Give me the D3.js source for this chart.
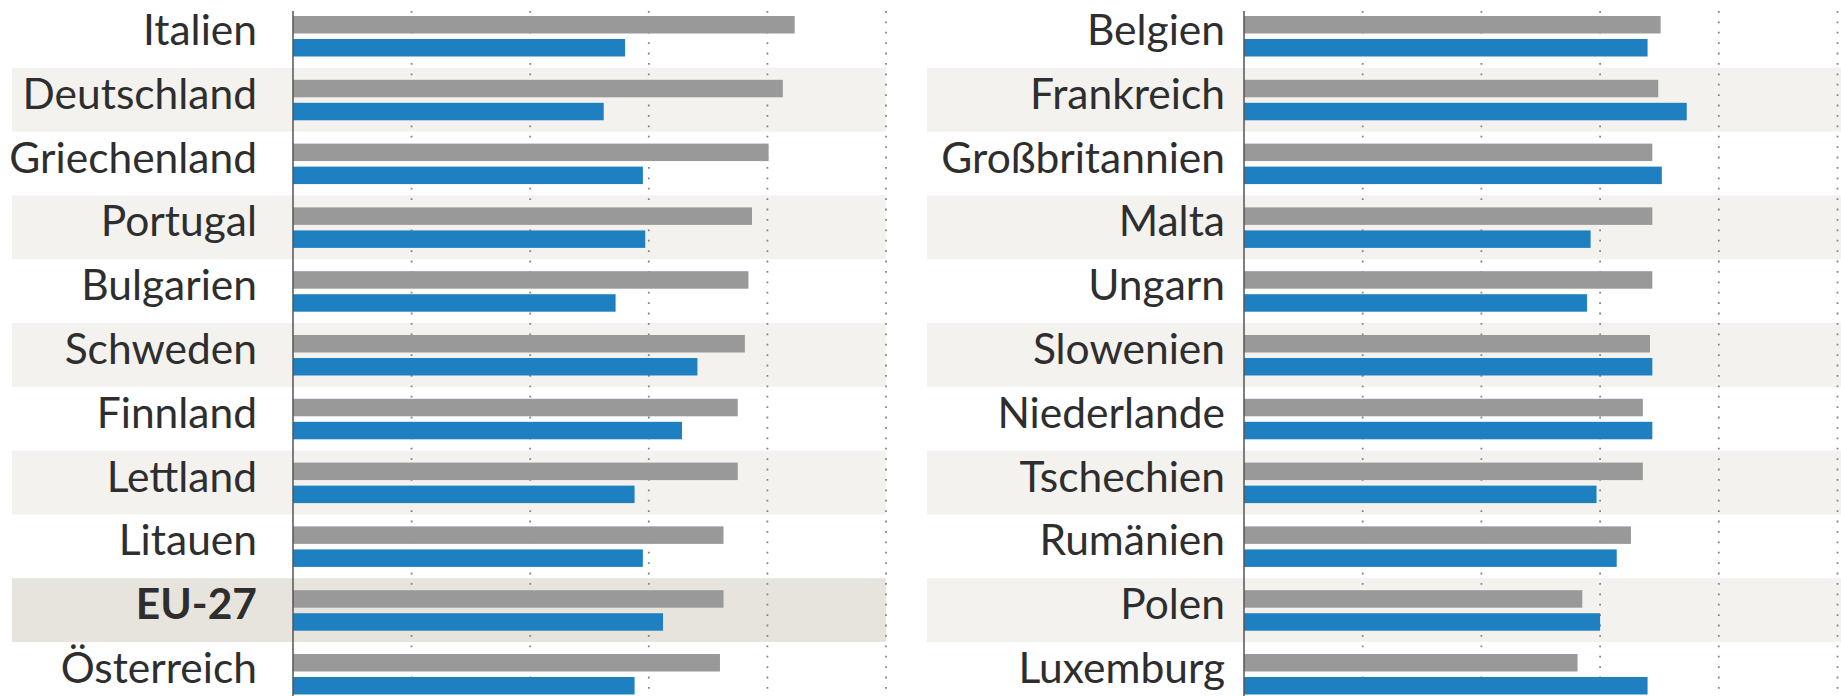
<!DOCTYPE html>
<html lang="de">
<head>
  <meta charset="UTF-8">
  <title>EU-Vergleich</title>
  <style>
    html, body { margin: 0; padding: 0; background: #fff; }
    svg { display: block; }
    text { font-family: Lato, "Open Sans", sans-serif; fill: #2e2e2e; }
  </style>
</head>
<body>
  <script src="https://d3js.org/d3.v7.min.js"></script>
  <script>
    // left column
    const leftCountries = ["Italien", "Deutschland", "Griechenland", "Portugal", "Bulgarien",
      "Schweden", "Finnland", "Lettland", "Litauen", "EU-27", "Österreich"];
    const leftGray = [42.3, 41.3, 40.1, 38.7, 38.4, 38.1, 37.5, 37.5, 36.3, 36.3, 36.0];
    const leftBlue = [28.0, 26.2, 29.5, 29.7, 27.2, 34.1, 32.8, 28.8, 29.5, 31.2, 28.8];

    // right column
    const rightCountries = ["Belgien", "Frankreich", "Großbritannien", "Malta", "Ungarn",
      "Slowenien", "Niederlande", "Tschechien", "Rumänien", "Polen", "Luxemburg"];
    const rightGray = [35.1, 34.9, 34.4, 34.4, 34.4, 34.2, 33.6, 33.6, 32.6, 28.5, 28.1];
    const rightBlue = [34.0, 37.3, 35.2, 29.2, 28.9, 34.4, 34.4, 29.7, 31.4, 30.0, 34.0];

    const series = ["gray", "blue"];
    const ticks = [10, 20, 30, 40, 50];

    const width = 1841, height = 696;
    const rowH = 63.8, rowTop = 4;

    const svg = d3.select("body").append("svg")
      .attr("width", width)
      .attr("height", height);

    const colors = { gray: "#9a9999", blue: "#1f80c1" };

    function panel(countries, gray, blue, opt) {
      const g = svg.append("g");

      const y = d3.scaleBand()
        .domain(countries)
        .range([rowTop, rowTop + rowH * countries.length])
        .paddingInner(0);

      const yInner = d3.scaleBand()
        .domain(series)
        .range([12, 52.5])
        .paddingInner(0.24);

      const x = d3.scaleLinear()
        .domain([0, 50])
        .range([opt.x0, opt.x1]);

      // shaded rows
      g.append("g")
        .selectAll("rect")
        .data(countries.filter((d, i) => i % 2 === 1))
        .join("rect")
        .attr("x", opt.bandX0)
        .attr("width", opt.bandX1 - opt.bandX0)
        .attr("y", d => y(d))
        .attr("height", y.bandwidth())
        .attr("fill", d => d === "EU-27" ? "#e6e4dc" : "#f3f2ee");

      // dotted grid
      g.append("g")
        .selectAll("line")
        .data(ticks)
        .join("line")
        .attr("x1", d => x(d))
        .attr("x2", d => x(d))
        .attr("y1", 11)
        .attr("y2", height)
        .attr("stroke", "#858585")
        .attr("stroke-width", 1.8)
        .attr("stroke-dasharray", "1.8 8.6");

      const rows = countries.map((c, i) => ({ c, gray: gray[i], blue: blue[i] }));

      const row = g.append("g")
        .selectAll("g")
        .data(rows)
        .join("g")
        .attr("transform", d => `translate(0,${y(d.c)})`);

      row.selectAll("rect")
        .data(d => series.map(s => ({ s, v: d[s] })))
        .join("rect")
        .attr("x", x(0))
        .attr("y", d => yInner(d.s))
        .attr("width", d => x(d.v) - x(0))
        .attr("height", yInner.bandwidth())
        .attr("fill", d => colors[d.s]);

      row.append("text")
        .attr("x", opt.labelX)
        .attr("y", 41)
        .attr("text-anchor", "end")
        .style("font-size", "42.5px")
        .style("font-weight", d => d.c === "EU-27" ? 700 : 400)
        .text(d => d.c);

      // axis line
      g.append("line")
        .attr("x1", x(0))
        .attr("x2", x(0))
        .attr("y1", 11)
        .attr("y2", height)
        .attr("stroke", "#555")
        .attr("stroke-width", 1.5);
    }

    panel(leftCountries, leftGray, leftBlue,
      { x0: 293, x1: 886, labelX: 257, bandX0: 12, bandX1: 886 });
    panel(rightCountries, rightGray, rightBlue,
      { x0: 1244, x1: 1837.5, labelX: 1225, bandX0: 927, bandX1: 1841 });
  </script>
</body>
</html>
